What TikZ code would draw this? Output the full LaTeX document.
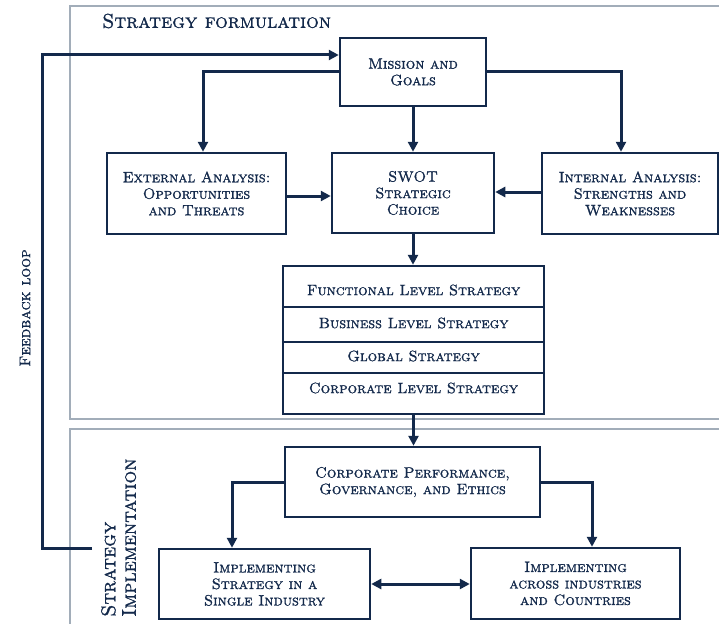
\documentclass[tikz,border=0pt]{standalone}
\usepackage{fontspec}
\newfontfamily\capsfont[FakeBold=1.2]{lmromancaps10-regular.otf}
\usetikzlibrary{arrows.meta}
\definecolor{navy}{HTML}{13294B}
\definecolor{framecol}{HTML}{A2ADB9}
\begin{document}
\begin{tikzpicture}[x=1pt,y=-1pt,
  box/.style={draw=navy, line width=2.5pt, fill=white, text=navy, align=center, inner sep=0pt,
    font=\capsfont\fontsize{15}{16.5}\selectfont},
  rowtxt/.style={text=navy, inner sep=0pt, font=\capsfont\fontsize{15}{16}\selectfont},
  arr/.style={draw=navy, line width=3pt, -{Triangle[length=10pt,width=10pt]}},
  dbl/.style={draw=navy, line width=3pt, {Triangle[length=10pt,width=10pt]}-{Triangle[length=10pt,width=10pt]}},
  framel/.style={draw=framecol, line width=1.6pt},
  divider/.style={draw=navy, line width=2.2pt}
]
\useasboundingbox (0,0) rectangle (719,623);

% frames
\draw[framel] (725,6) -- (70,6) -- (70,419) -- (725,419);
\draw[framel] (725,429) -- (70,429) -- (70,630);

% labels
\node[anchor=west, text=navy, inner sep=0pt, font=\capsfont\fontsize{20}{22}\selectfont] (title) at (102,21) {Strategy formulation};
\node[rotate=90, text=navy, inner sep=0pt, font=\capsfont\fontsize{15.5}{17}\selectfont] (fbl) at (25,308) {Feedback loop};
\node[rotate=90, anchor=north west, align=left, text=navy, inner sep=0pt, font=\capsfont\fontsize{20}{20.5}\selectfont] (impl) at (101,617) {Strategy\\Implementation};

% boxes
\node[box, minimum width=146pt, minimum height=68pt] (mission) at (413,72) {Mission and\\Goals};
\node[box, minimum width=179pt, minimum height=81pt] (ext) at (196.5,193.5) {External Analysis:\\Opportunities\\and Threats};
\node[box, minimum width=162pt, minimum height=80pt] (swot) at (413,193) {SWOT\\Strategic\\Choice};
\node[box, minimum width=176pt, minimum height=81pt] (int) at (630,193.5) {Internal Analysis:\\Strengths and\\Weaknesses};

\node[box, minimum width=261pt, minimum height=148pt] (stack) at (413.5,340) {};
\draw[divider] (stack.west |- 0,307) -- (stack.east |- 0,307);
\draw[divider] (stack.west |- 0,342) -- (stack.east |- 0,342);
\draw[divider] (stack.west |- 0,373) -- (stack.east |- 0,373);
\node[rowtxt] (fls) at (413.5,290) {Functional Level Strategy};
\node[rowtxt] (bls) at (413.5,323) {Business Level Strategy};
\node[rowtxt] (gls) at (413.5,356) {Global Strategy};
\node[rowtxt] (cls) at (413.5,388) {Corporate Level Strategy};

\node[box, minimum width=255pt, minimum height=70pt] (cp) at (412.5,482) {Corporate Performance,\\Governance, and Ethics};
\node[box, minimum width=211pt, minimum height=70pt] (lb) at (264.5,584) {Implementing\\Strategy in a\\Single Industry};
\node[box, minimum width=209pt, minimum height=71pt] (rb) at (575.5,583.5) {Implementing\\across industries\\and Countries};

% connectors
\draw[arr] (mission.west) -| ([xshift=6.5pt]ext.north);
\draw[arr] (mission.east) -| ([xshift=-9pt]int.north);
\draw[arr] (mission.south) -- (mission.south |- swot.north);
\draw[arr] ([yshift=-2.5pt]ext.east) -- ([yshift=-2.5pt]ext.east -| swot.west);
\draw[arr] ([yshift=1.5pt]int.west) -- ([yshift=1.5pt]int.west -| swot.east);
\draw[arr] (swot.south) -- (swot.south |- stack.north);
\draw[arr] (stack.south) -- (stack.south |- cp.north);
\draw[arr] (cp.west) -| ([xshift=-32.5pt]lb.north);
\draw[arr] (cp.east) -| ([xshift=16.5pt]rb.north);
\draw[dbl] (lb.east) -- (lb.east -| rb.west);

\coordinate (fb) at (92,548);
\draw[arr] (fb) -- ++(-50,0) |- ([yshift=17pt]mission.west);
\end{tikzpicture}
\end{document}
